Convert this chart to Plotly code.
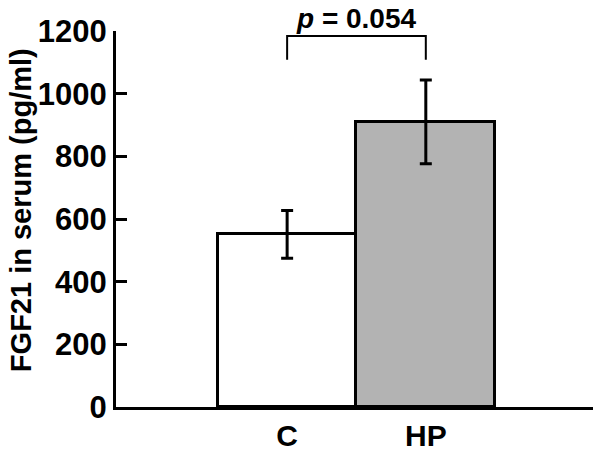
import plotly.graph_objects as go

# Data
categories = ["C", "HP"]
means = [552, 910]
err_upper = [75, 134]
err_lower = [77, 134]
bar_colors = ["#ffffff", "#b3b3b3"]
y_ticks = [0, 200, 400, 600, 800, 1000, 1200]
p_label = "<i>p</i> = 0.054"
bracket_low = 1108
bracket_high = 1184

x_pos = [1, 2]

fig = go.Figure()
fig.add_trace(go.Bar(
    x=x_pos, y=means, width=1,
    marker=dict(color=bar_colors, line=dict(color="black", width=3)),
    error_y=dict(type="data", symmetric=False, array=err_upper, arrayminus=err_lower,
                 color="black", thickness=3, width=6),
    showlegend=False,
))

font_family = "Arial, Liberation Sans, sans-serif"

# page body has an 8px default margin, so the figure is sized to fit the window
fig.update_layout(
    width=593, height=444,
    autosize=False,
    margin=dict(l=108, r=6, t=23, b=45, pad=0),
    plot_bgcolor="white", paper_bgcolor="white",
    bargap=0,
    xaxis=dict(range=[-0.234, 3.22], showline=True, linecolor="black", linewidth=3,
               tickvals=x_pos, ticktext=categories, ticks="", showgrid=False, zeroline=False,
               automargin=False,
               tickfont=dict(family=font_family, size=30, color="black", weight="bold")),
    yaxis=dict(range=[0, 1200], showline=True, linecolor="black", linewidth=3,
               tickvals=y_ticks, ticks="inside", ticklen=11, tickwidth=3, tickcolor="black",
               showgrid=False, zeroline=False, automargin=False,
               tickfont=dict(family=font_family, size=31, color="black", weight="bold")),
)

# y axis title
fig.add_annotation(text="FGF21 in serum (pg/ml)", xref="paper", yref="paper",
                   x=-0.198, y=0.524, textangle=-90, showarrow=False,
                   font=dict(family=font_family, size=29, color="black", weight="bold"),
                   xanchor="center", yanchor="middle")

# significance bracket
fig.add_shape(type="path",
              path=f"M {x_pos[0]},{bracket_low} L {x_pos[0]},{bracket_high} L {x_pos[1]},{bracket_high} L {x_pos[1]},{bracket_low}",
              xref="x", yref="y", line=dict(color="black", width=2))
fig.add_annotation(text=p_label, x=(x_pos[0] + x_pos[1]) / 2, y=1.0, xref="x", yref="paper",
                   yshift=13, showarrow=False, yanchor="middle",
                   font=dict(family=font_family, size=28, color="black", weight="bold"))

# small end tick at right end of x axis
fig.add_shape(type="line", xref="paper", yref="y", x0=1, x1=1, y0=0, y1=38,
              line=dict(color="black", width=3))

fig.write_html("out.html")
